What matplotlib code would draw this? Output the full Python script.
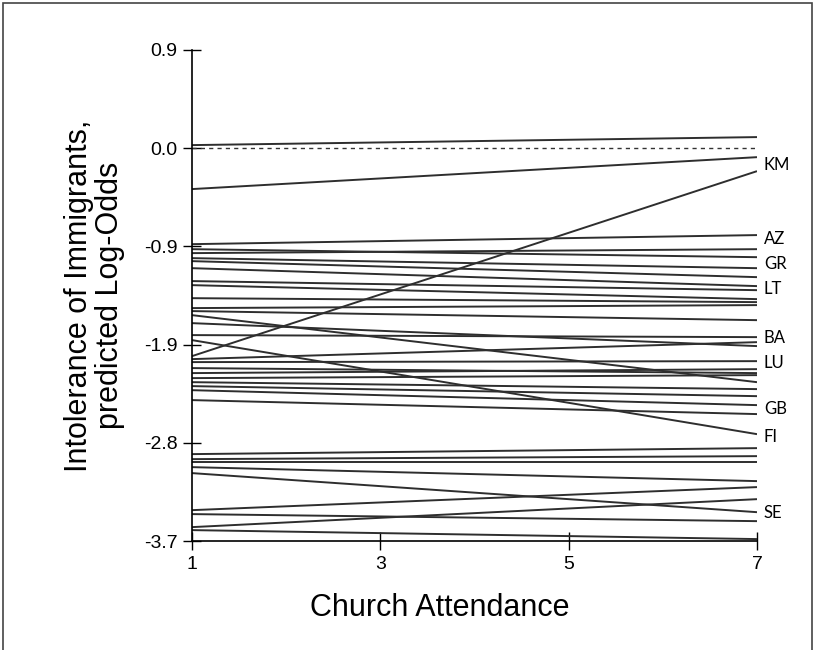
import numpy as np
import matplotlib
matplotlib.use("Agg")
import matplotlib.pyplot as plt
from matplotlib.patches import Rectangle

plt.rcParams['font.family'] = ['Liberation Sans', 'DejaVu Sans']

# predicted log-odds at church attendance = 1 and = 7, one entry per country
start_vals = [0.029, -0.383, -1.948,
              -0.899, -0.946, -0.983, -1.030, -1.058, -1.124, -1.245, -1.283,
              -1.405, -1.498, -1.526, -1.564, -1.639,
              -1.751, -1.798, -1.976, -2.004, -2.060, -2.107, -2.154, -2.192,
              -2.229, -2.267, -2.360,
              -2.866, -2.913, -2.941, -2.988, -3.044, -3.391, -3.428, -3.550, -3.578]
end_vals = [0.104, -0.084, -0.215,
            -0.814, -1.021, -0.946, -1.124, -1.208, -1.292, -1.330, -1.414,
            -1.442, -1.470, -1.611, -2.192, -1.854,
            -1.770, -2.679, -1.817, -1.995, -2.107, -2.070, -2.126, -2.257,
            -2.323, -2.407, -2.491,
            -2.810, -2.885, -2.941, -3.119, -3.410, -3.175, -3.494, -3.288, -3.662]
x_att = [1, 7]

labels = ['KM', 'AZ', 'GR', 'LT', 'BA', 'LU', 'GB', 'FI', 'SE']
label_y = [-0.159, -0.852, -1.086, -1.320, -1.779, -2.014, -2.445, -2.707, -3.419]

yticks = [-3.68, -2.76, -1.84, -0.92, 0.0, 0.92]
ytick_labels = ['-3.7', '-2.8', '-1.9', '-0.9', '0.0', '0.9']
xticks = [1, 3, 5, 7]

fig = plt.figure(figsize=(8.15, 6.5), dpi=100)
ax = fig.add_axes([192/815, 1-541/650, 565/815, 491/650])

for s, e in zip(start_vals, end_vals):
    ax.plot(x_att, [s, e], color='#2e2e2e', lw=1.4, solid_capstyle='butt')

ax.plot(x_att, [0, 0], color='#333333', lw=1.0, ls=(0, (3, 3)))

for lab, ly in zip(labels, label_y):
    ax.annotate(lab, xy=(7, ly), xytext=(5, 0), textcoords='offset points',
                ha='left', va='center', fontsize=12, family=['Lato', 'DejaVu Sans'],
                annotation_clip=False)

ax.set_xlim(1, 7)
ax.set_ylim(-3.68, 0.92)
ax.set_xticks(xticks)
ax.set_yticks(yticks)
ax.set_yticklabels(ytick_labels)
for sp in ['top', 'right']:
    ax.spines[sp].set_visible(False)
for sp in ['left', 'bottom']:
    ax.spines[sp].set_linewidth(1.2)
ax.tick_params(direction='inout', length=13, width=1.0, labelsize=14, pad=4)

ax.set_xlabel('Church Attendance', fontsize=22, va='center')
ax.xaxis.set_label_coords(0.439, -0.136)
ax.set_ylabel('Intolerance of Immigrants,\npredicted Log-Odds', fontsize=22,
              va='center', linespacing=1.05)
ax.yaxis.set_label_coords(-0.172, 0.5)

fig.add_artist(Rectangle((0.004, -0.01), 0.992, 1.005, transform=fig.transFigure,
                         fill=False, edgecolor='#444444', lw=1.2))

fig.savefig('out.png', dpi=100)
